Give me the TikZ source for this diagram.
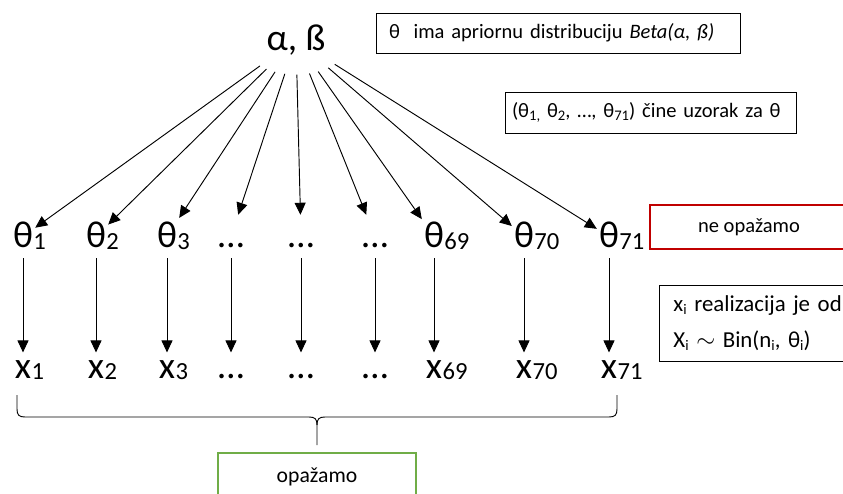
\documentclass[tikz,border=0pt]{standalone}
\usepackage{fontspec}
\setmainfont{Carlito}
\usetikzlibrary{shapes.geometric, arrows.meta, positioning}
\definecolor{obsred}{RGB}{192, 0, 0}
\definecolor{obsgreen}{RGB}{112, 173, 71}
\newcommand{\lowidx}[1]{\raisebox{-0.12em}{\fontsize{12.5}{12.5}\selectfont #1}}

\begin{document}
\begin{tikzpicture}[
  arr/.style={-{Triangle[length=3.6mm, width=3.3mm]}, line width=0.8pt},
  thnode/.style={inner xsep=0.06cm, inner ysep=0.3cm, text height=0.69cm, text depth=0pt, font=\fontsize{32}{38}\selectfont, anchor=base},
  xnode/.style={inner xsep=0.06cm, inner ysep=0.3cm, text height=0.46cm, text depth=0pt, font=\fontsize{32}{38}\selectfont, anchor=base},
  subtxt/.style={inner sep=0pt, anchor=base west, font=\fontsize{21}{25}\selectfont},
  infobox/.style={draw, line width=0.8pt, font=\fontsize{17.5}{21}\selectfont, align=left}
]
  \useasboundingbox (0,0) rectangle (25.29,-14.82);
  \clip (0,0) rectangle (25.29,-14.82);

  % hyperparameters
  \node[ellipse, inner sep=0.27cm, font=\fontsize{32}{38}\selectfont] (ab) at (8.88,-1.2) {α, ß};

  % theta row, x row and the arrows
  \foreach \i/\cx/\g/\h in {1/0.69/θ/x, 2/2.88/θ/x, 3/5.01/θ/x, 4/6.93/…/…, 5/9.03/…/…, 6/11.25/…/…, 7/13.02/θ/x, 8/15.72/θ/x, 9/18.27/θ/x}{
    \node[thnode] (t\i) at (\cx,-7.44) {\g};
    \node[xnode] (x\i) at (\cx,-11.34) {\h};
    \draw[arr] (ab) -- (t\i);
    \draw[arr] (t\i) -- (x\i);
  }
  \foreach \i/\s in {1/1, 2/2, 3/3, 7/69, 8/70, 9/71}{
    \node[subtxt] (ts\i) at ([xshift=-0.06cm, yshift=-0.06cm]t\i.base east) {\s};
    \node[subtxt] (xs\i) at ([xshift=-0.06cm, yshift=-0.06cm]x\i.base east) {\s};
  }

  % notes
  \node[infobox, text width=10.14cm, inner xsep=0.39cm, minimum height=1.2cm] (prior) at (16.74,-0.99) {θ\ \ ima apriornu distribuciju \textit{Beta(α, ß)}};
  \node[infobox, text width=8.31cm, inner xsep=0.21cm, minimum height=1.23cm] (sample) at (19.515,-3.375) {(θ\lowidx{1,} θ\lowidx{2}, …, θ\lowidx{71}) čine uzorak za θ};
  \node[infobox, draw=obsred, line width=1.6pt, minimum width=5.94cm, minimum height=1.32cm, align=center] (hidden) at (22.47,-6.81) {ne opažamo};
  \node[infobox, anchor=north west, text width=5.16cm, inner xsep=0.42cm, minimum height=2.28cm, font=\fontsize{19.5}{30.7}\selectfont] (model) at (19.77,-8.55) {x\lowidx{i} realizacija je od\\ X\lowidx{i} $\sim$ Bin(n\lowidx{i}, θ\lowidx{i})};
  \node[infobox, draw=obsgreen, line width=1.6pt, minimum width=5.94cm, minimum height=1.44cm, align=center, font=\fontsize{18.5}{22}\selectfont] (seen) at (9.51,-14.31) {opažamo};

  % brace over the observed x
  \draw[line width=0.8pt] (0.51,-11.85) -- (0.51,-12.27) .. controls (0.51,-12.45) and (0.57,-12.51) .. (0.75,-12.51) -- (9.27,-12.51) .. controls (9.45,-12.51) and (9.51,-12.57) .. (9.51,-12.75) -- (9.51,-13.35);
  \draw[line width=0.8pt] (18.51,-11.85) -- (18.51,-12.27) .. controls (18.51,-12.45) and (18.45,-12.51) .. (18.27,-12.51) -- (9.75,-12.51) .. controls (9.57,-12.51) and (9.51,-12.57) .. (9.51,-12.75);
\end{tikzpicture}
\end{document}
